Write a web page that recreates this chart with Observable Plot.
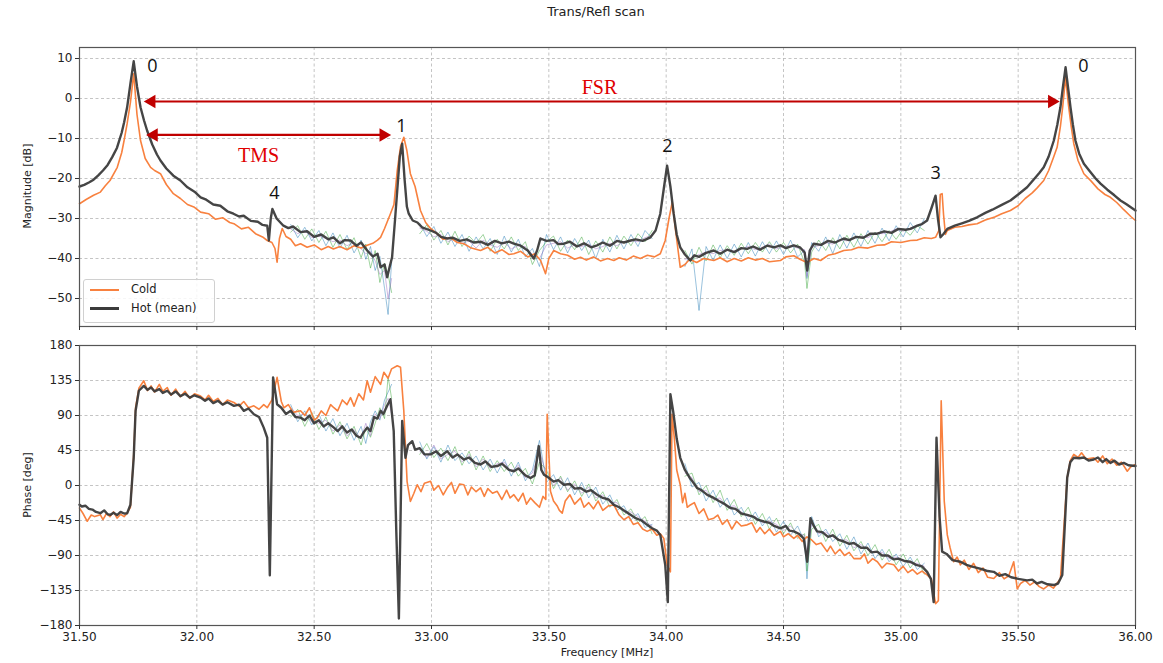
<!DOCTYPE html>
<html>
<head>
<meta charset="utf-8">
<script src="https://cdn.jsdelivr.net/npm/d3@7"></script>
<script src="https://cdn.jsdelivr.net/npm/@observablehq/plot@0.6"></script>
<style>
  html, body { margin: 0; padding: 0; background: #fff; }
  #root { position: relative; width: 1163px; height: 663px; font-family: "DejaVu Sans", sans-serif; color: #222; overflow: hidden; }
  .abs { position: absolute; }
  .ylab { position: absolute; transform: translate(-50%, -50%) rotate(-90deg); font-size: 11px; white-space: nowrap; }
</style>
</head>
<body>
<div id="root">
  <div class="abs" style="left:0;width:1192px;top:4px;text-align:center;font-size:13px;">Trans/Refl scan</div>
  <div id="magbox" class="abs" style="left:0;top:0;"></div>
  <div id="phbox" class="abs" style="left:0;top:338px;"></div>
  <div class="ylab" style="left:27px;top:186px;">Magnitude [dB]</div>
  <div class="ylab" style="left:27px;top:485px;">Phase [deg]</div>
  <div class="abs" style="left:79px;width:1056px;top:646px;text-align:center;font-size:11px;">Frequency [MHz]</div>
  <div id="legend" class="abs" style="left:83px;top:279px;width:130px;height:42px;border:1px solid #d0d0d0;border-radius:3px;background:rgba(255,255,255,0.85);font-size:11.5px;">
    <div class="abs" style="left:6px;top:9px;width:29px;height:2px;background:#f8813f;"></div>
    <div class="abs" style="left:47px;top:2px;">Cold</div>
    <div class="abs" style="left:6px;top:27px;width:29px;height:3px;background:#3b3b3b;"></div>
    <div class="abs" style="left:47px;top:21px;">Hot (mean)</div>
  </div>
</div>
<script>
// ---------- data ----------
const xTicks = [31.5, 32.0, 32.5, 33.0, 33.5, 34.0, 34.5, 35.0, 35.5, 36.0];
const magTicks = [10, 0, -10, -20, -30, -40, -50];
const phaseTicks = [180, 135, 90, 45, 0, -45, -90, -135, -180];

// Magnitude, Hot (mean)
const hotMagF = [31.50,31.52,31.54,31.56,31.58,31.60,31.62,31.64,31.66,31.68,31.69,31.703,31.717,31.731,31.745,31.760,31.775,31.788,31.81,31.83,31.845,31.87,31.90,31.93,31.96,31.99,32.016,32.04,32.07,32.10,32.13,32.156,32.18,32.20,32.23,32.26,32.28,32.30,32.307,32.315,32.322,32.34,32.369,32.39,32.41,32.442,32.47,32.50,32.53,32.56,32.582,32.61,32.63,32.655,32.68,32.70,32.726,32.75,32.77,32.783,32.80,32.811,32.822,32.832,32.845,32.854,32.865,32.875,32.885,32.895,32.903,32.92,32.94,32.96,32.996,33.02,33.04,33.067,33.09,33.12,33.15,33.18,33.209,33.24,33.27,33.30,33.33,33.351,33.38,33.41,33.436,33.45,33.464,33.49,33.52,33.54,33.564,33.59,33.62,33.65,33.68,33.706,33.73,33.76,33.79,33.82,33.848,33.87,33.90,33.933,33.955,33.975,33.99,34.004,34.018,34.032,34.045,34.06,34.08,34.103,34.12,34.14,34.17,34.203,34.23,34.26,34.29,34.32,34.345,34.37,34.40,34.43,34.46,34.487,34.51,34.544,34.57,34.59,34.601,34.612,34.629,34.66,34.69,34.72,34.757,34.78,34.81,34.84,34.87,34.899,34.93,34.96,34.99,35.02,35.041,35.07,35.09,35.112,35.13,35.148,35.158,35.169,35.18,35.198,35.23,35.26,35.29,35.325,35.36,35.39,35.43,35.467,35.50,35.538,35.57,35.59,35.609,35.63,35.652,35.667,35.68,35.69,35.702,35.712,35.723,35.733,35.744,35.76,35.78,35.80,35.83,35.851,35.88,35.91,35.936,35.96,35.98,36.00];
const hotMagV = [-22.0,-21.6,-21.0,-20.3,-19.2,-18.0,-16.6,-14.6,-12.3,-8.5,-6.0,-2.2,3.7,9.3,3.0,-2.2,-5.5,-8.0,-11.5,-14.0,-15.5,-17.5,-19.3,-20.5,-22.2,-23.3,-24.7,-25.3,-26.5,-26.8,-28.2,-28.8,-29.5,-29.3,-30.6,-30.8,-31.6,-31.8,-35.5,-30.0,-27.6,-30.0,-31.8,-32.4,-32.0,-33.4,-33.2,-34.6,-34.0,-35.2,-34.7,-36.2,-35.4,-35.5,-36.8,-36.0,-38.0,-39.5,-38.8,-42.2,-41.5,-44.7,-42.0,-39.7,-30.0,-23.0,-14.5,-11.3,-20.0,-27.0,-28.8,-30.5,-31.0,-32.2,-33.0,-33.6,-34.6,-35.0,-34.8,-35.6,-35.2,-36.0,-35.8,-36.6,-35.6,-36.2,-35.8,-36.3,-36.8,-38.0,-40.0,-38.0,-35.0,-35.6,-35.4,-36.4,-36.3,-35.8,-37.0,-36.2,-37.2,-36.7,-36.0,-36.8,-35.6,-36.0,-35.5,-35.2,-35.6,-34.7,-33.0,-28.8,-22.5,-16.8,-22.0,-28.8,-34.0,-37.2,-39.0,-40.5,-39.2,-39.6,-38.6,-38.0,-38.8,-37.8,-38.4,-37.4,-37.6,-37.0,-37.8,-36.8,-37.2,-36.7,-37.4,-36.7,-37.2,-38.5,-43.0,-38.0,-36.3,-36.6,-35.6,-36.0,-35.0,-35.4,-34.6,-34.8,-33.8,-33.8,-33.2,-33.6,-32.6,-32.8,-32.6,-31.8,-31.4,-30.5,-27.5,-24.3,-30.0,-34.7,-34.0,-32.6,-31.8,-31.2,-30.6,-29.7,-28.6,-27.8,-26.6,-25.5,-24.0,-22.2,-20.0,-18.6,-17.2,-14.5,-10.5,-6.5,-2.2,2.5,7.8,3.0,-2.2,-6.5,-10.5,-13.8,-16.3,-17.8,-20.0,-21.3,-22.8,-24.2,-25.5,-26.4,-27.2,-28.0];

// Magnitude, Cold
const coldMagF = [31.50,31.53,31.56,31.589,31.61,31.63,31.661,31.68,31.69,31.703,31.717,31.731,31.745,31.76,31.78,31.803,31.82,31.845,31.87,31.90,31.93,31.96,31.99,32.016,32.05,32.08,32.11,32.14,32.158,32.19,32.22,32.25,32.28,32.30,32.32,32.333,32.342,32.352,32.364,32.38,32.40,32.42,32.442,32.47,32.50,32.53,32.56,32.582,32.61,32.64,32.67,32.70,32.726,32.75,32.77,32.783,32.80,32.825,32.84,32.854,32.868,32.882,32.895,32.91,32.93,32.953,32.975,32.996,33.02,33.05,33.08,33.11,33.138,33.17,33.209,33.24,33.27,33.30,33.33,33.351,33.38,33.41,33.44,33.465,33.486,33.50,33.521,33.55,33.58,33.61,33.635,33.66,33.69,33.72,33.75,33.777,33.80,33.83,33.86,33.89,33.92,33.95,33.975,33.996,34.012,34.026,34.04,34.06,34.08,34.10,34.13,34.16,34.203,34.23,34.26,34.29,34.32,34.35,34.38,34.41,34.44,34.487,34.51,34.544,34.57,34.60,34.63,34.658,34.69,34.72,34.757,34.79,34.82,34.86,34.899,34.93,34.96,35.00,35.041,35.07,35.10,35.13,35.148,35.162,35.168,35.176,35.182,35.19,35.198,35.23,35.26,35.29,35.325,35.36,35.40,35.43,35.467,35.50,35.53,35.56,35.58,35.609,35.63,35.652,35.666,35.68,35.69,35.702,35.715,35.726,35.737,35.755,35.78,35.81,35.84,35.87,35.893,35.92,35.95,35.98,36.00];
const coldMagV = [-26.3,-25.2,-24.2,-23.4,-21.8,-20.5,-17.2,-13.5,-10.5,-6.3,-1.0,6.2,-4.0,-10.5,-15.0,-17.2,-18.0,-18.8,-21.5,-23.8,-25.0,-26.5,-27.2,-28.4,-28.8,-30.2,-29.8,-31.0,-31.3,-32.6,-32.2,-33.8,-34.6,-35.5,-36.0,-37.5,-40.9,-35.0,-32.5,-34.5,-35.2,-36.8,-36.3,-37.2,-36.6,-37.8,-37.0,-37.6,-37.0,-37.8,-36.8,-37.4,-36.7,-36.2,-35.4,-34.7,-32.5,-28.8,-26.5,-18.0,-12.0,-9.7,-13.0,-18.8,-22.0,-28.0,-31.0,-32.5,-33.6,-35.2,-34.8,-36.0,-36.3,-37.4,-38.0,-37.2,-38.6,-37.8,-39.0,-38.8,-38.2,-39.6,-38.8,-40.5,-43.8,-40.0,-38.0,-38.8,-39.2,-40.2,-39.7,-40.4,-39.6,-40.6,-40.0,-40.5,-39.8,-40.4,-39.4,-40.0,-39.2,-39.6,-38.8,-35.5,-30.0,-25.9,-33.0,-42.2,-41.5,-40.2,-41.0,-40.0,-40.5,-39.8,-40.8,-40.0,-40.6,-39.8,-40.4,-40.0,-40.8,-40.5,-39.6,-39.3,-40.2,-41.0,-40.0,-40.5,-39.2,-38.8,-38.0,-37.8,-37.2,-37.4,-36.7,-36.6,-35.8,-36.0,-35.5,-35.4,-34.8,-35.0,-34.7,-33.0,-24.0,-23.8,-29.0,-34.0,-33.0,-32.2,-32.0,-31.6,-31.3,-30.4,-29.6,-28.8,-28.0,-26.8,-25.0,-23.6,-22.4,-20.5,-18.0,-14.5,-12.2,-7.0,-2.0,5.3,-2.0,-7.0,-11.3,-15.5,-18.8,-20.6,-22.6,-24.0,-24.7,-26.0,-27.8,-29.5,-30.5];

// Phase, Hot (mean)
const hotPhF = [31.50,31.51,31.525,31.54,31.555,31.57,31.589,31.605,31.62,31.632,31.645,31.66,31.675,31.69,31.703,31.717,31.731,31.739,31.753,31.774,31.79,31.805,31.82,31.84,31.855,31.874,31.89,31.91,31.93,31.95,31.97,31.99,32.016,32.035,32.05,32.07,32.09,32.11,32.13,32.158,32.18,32.20,32.22,32.243,32.265,32.285,32.30,32.311,32.325,32.342,32.36,32.38,32.40,32.42,32.442,32.46,32.48,32.50,32.52,32.54,32.56,32.584,32.60,32.62,32.64,32.66,32.68,32.697,32.71,32.726,32.74,32.755,32.77,32.783,32.795,32.811,32.825,32.839,32.85,32.861,32.875,32.889,32.90,32.918,32.93,32.95,32.97,32.996,33.02,33.04,33.067,33.09,33.11,33.138,33.16,33.185,33.209,33.23,33.255,33.28,33.30,33.33,33.351,33.37,33.40,33.422,33.44,33.457,33.468,33.479,33.50,33.52,33.54,33.564,33.59,33.61,33.635,33.66,33.68,33.706,33.73,33.755,33.777,33.80,33.82,33.848,33.87,33.895,33.919,33.94,33.96,33.975,33.996,34.007,34.018,34.03,34.045,34.06,34.08,34.10,34.115,34.132,34.15,34.175,34.203,34.225,34.25,34.274,34.295,34.32,34.345,34.37,34.39,34.416,34.44,34.46,34.487,34.51,34.525,34.544,34.565,34.586,34.601,34.615,34.629,34.643,34.665,34.69,34.71,34.735,34.757,34.78,34.80,34.83,34.855,34.875,34.899,34.92,34.945,34.97,34.99,35.015,35.041,35.065,35.09,35.112,35.128,35.14,35.152,35.165,35.176,35.195,35.22,35.254,35.28,35.30,35.325,35.35,35.37,35.396,35.42,35.445,35.47,35.50,35.538,35.56,35.58,35.60,35.625,35.652,35.67,35.688,35.709,35.722,35.737,35.76,35.78,35.80,35.822,35.84,35.86,35.875,35.893,35.91,35.93,35.95,35.97,36.00];
const hotPhV = [-24.8,-27,-26,-30,-31,-34,-35.6,-32,-37,-37.7,-35,-38,-34,-36,-35.6,-24.8,35.6,96,121.8,128,123,126,121,124,119,121.8,117,121,115,118,113,116,113,109,112,106,109,104,107,102.4,104,96,99,91.6,88,74.4,61.4,-115.3,139,104.5,100,92,96,88,87.3,84,90,80,84,76,80,74.4,70,76,68,72,64,61.4,68,74.4,70,88,86,96,92,102.4,111,70,-59,-171,83,35.6,52,57,46,48,40,40,44,38,44,36,40,33.4,36,29,27,31,24,25,28,20,18.3,22,13,9.7,13,50.7,20,14,10,5,7,1,2,-4,-3.2,-8,-6,-11.8,-16,-18,-24.8,-28,-32,-37.7,-42,-45,-50.6,-55,-58,-63.5,-102,-150,117.5,95,60,35.6,20,10,4,-3.2,-6,-12,-16,-20,-24,-29,-30,-36,-37.7,-40,-44,-46.3,-48,-52,-55,-52,-58,-59,-62,-68,-98,-42,-52,-59,-60,-66,-64,-70,-72,-75,-74,-80,-80,-86,-85,-90,-90,-95,-94,-97,-98,-102,-104,-111,-120,-150,61.4,-40,-85,-88,-96,-98,-102,-104,-106,-108,-110,-111,-116,-114,-118,-120,-122,-121,-126,-124,-127,-128,-126,-115,10,30,35.6,35,36,32,33.4,36,30,34,29,32,27,29,26,25];

// Phase, Cold
const coldPhF = [31.50,31.515,31.533,31.55,31.565,31.589,31.60,31.615,31.63,31.645,31.66,31.675,31.69,31.703,31.717,31.731,31.739,31.753,31.774,31.79,31.805,31.82,31.84,31.855,31.874,31.89,31.91,31.93,31.95,31.97,31.99,32.016,32.035,32.05,32.07,32.09,32.11,32.13,32.158,32.18,32.20,32.22,32.243,32.265,32.285,32.30,32.32,32.342,32.36,32.371,32.39,32.41,32.442,32.46,32.48,32.50,32.513,32.53,32.55,32.57,32.584,32.60,32.62,32.64,32.655,32.67,32.69,32.71,32.726,32.74,32.76,32.783,32.797,32.815,32.83,32.854,32.868,32.882,32.896,32.91,32.925,32.939,32.955,32.97,32.996,33.01,33.03,33.05,33.067,33.085,33.10,33.12,33.138,33.155,33.17,33.19,33.209,33.225,33.24,33.26,33.28,33.30,33.32,33.335,33.351,33.37,33.39,33.405,33.422,33.44,33.46,33.475,33.487,33.493,33.507,33.52,33.535,33.545,33.557,33.57,33.59,33.61,33.635,33.65,33.67,33.69,33.71,33.73,33.755,33.777,33.80,33.82,33.84,33.86,33.88,33.90,33.919,33.94,33.96,33.975,33.99,34.004,34.018,34.025,34.035,34.045,34.06,34.07,34.08,34.09,34.103,34.12,34.14,34.16,34.18,34.203,34.22,34.24,34.26,34.28,34.30,34.32,34.345,34.365,34.385,34.40,34.42,34.44,34.46,34.487,34.50,34.52,34.544,34.56,34.58,34.60,34.62,34.64,34.66,34.686,34.70,34.72,34.74,34.76,34.78,34.80,34.828,34.845,34.86,34.88,34.90,34.92,34.94,34.97,34.99,35.01,35.03,35.05,35.07,35.09,35.112,35.13,35.148,35.16,35.172,35.185,35.198,35.21,35.225,35.24,35.254,35.27,35.29,35.31,35.33,35.35,35.37,35.396,35.42,35.44,35.46,35.481,35.496,35.51,35.53,35.55,35.57,35.59,35.609,35.63,35.65,35.665,35.68,35.709,35.722,35.737,35.755,35.77,35.79,35.822,35.84,35.86,35.88,35.90,35.92,35.94,35.965,35.98,36.00];
const coldPhV = [-29,-36,-46,-38,-40,-37.7,-44,-36,-40,-34,-42,-37,-40,-35.6,-28,40,100,125,134.7,122,128,120,130,121,126,116,124,114,121,112,118,115,110,116,108,112,104,110,106.7,102,108,100,102.4,98,104,100,110,139,108,100,104,94,96,90,100,84,87,96,90,104,100,96,110,104,113,102,118,110,134.7,120,140,130,145.5,138,150,154,152,96,5,-20.5,-10,1,-8,3,5.4,-6,0,-12,-3,4,-10,2,1,-12,-2,-8,-3,-14,-4,-10,-7.5,-18,-6,-16,-11.8,-20,-10,-24,-16,-22,-28,-14,-18,91.6,-7.5,-20,-26,-32,-35.6,-20,-12,-24,-16,-28,-22,-30,-20,-32,-26,-25,-38,-44,-40,-50,-48,-56,-59,-56,-64,-62,-68,-102,-111,91.6,60,20,1,-22,-10,-28,-25,-22,-36,-30,-44,-42,-38,-50,-44,-56,-46,-52,-50.6,-48,-60,-54,-62,-56,-64,-59,-66,-62,-68,-64,-72,-66,-70,-76,-74,-85,-78,-88,-82,-90,-86,-94,-94,-88,-100,-94,-98,-106,-100,-102,-110,-104,-112,-108,-114,-110,-115,-120,-152,-148,109,-20,-63.5,-80,-98,-92,-102,-96,-108,-100,-112,-106,-118,-119.6,-112,-120,-116,-98,-133,-126,-122,-128,-124,-130,-133,-128,-132,-126,-120,10,32,40,36,42,34,35.6,30,38,28,34,26,30,18.3,24,27];

// Individual hot scans (faint), sampled on a shared grid; NaN = break
const scanF = [32.40,32.43,32.46,32.49,32.52,32.55,32.58,32.61,32.64,32.67,32.70,32.72,32.74,32.76,32.78,32.80,32.815,32.83,32.89,32.95,32.98,33.01,33.04,33.07,33.10,33.13,33.16,33.19,33.22,33.25,33.28,33.31,33.34,33.37,33.40,33.43,33.46,33.49,33.52,33.55,33.58,33.61,33.64,33.67,33.70,33.73,33.76,33.79,33.82,33.85,33.88,33.91,33.94,34.00,34.08,34.11,34.14,34.17,34.20,34.23,34.26,34.29,34.32,34.35,34.38,34.41,34.44,34.47,34.50,34.53,34.56,34.59,34.60,34.62,34.65,34.68,34.71,34.74,34.77,34.80,34.83,34.86,34.89,34.92,34.95,34.98,35.01,35.04,35.07,35.10];
const scanMagA = [-31.5,-34.8,-32.2,-35.6,-33.0,-36.8,-33.6,-37.4,-34.2,-38.6,-35.4,-40.2,-37.0,-43.0,-39.5,-47.5,-54.0,-41.0,NaN,-31.2,-34.5,-32.0,-36.2,-33.4,-37.0,-34.0,-38.2,-34.6,-37.6,-35.0,-39.0,-34.4,-38.4,-35.2,-39.6,-37.5,-42.0,-34.0,-37.8,-34.6,-38.6,-35.0,-38.0,-35.4,-40.0,-35.2,-38.4,-34.2,-37.6,-34.0,-37.0,-33.0,-35.0,NaN,-42.0,-37.6,-53.0,-37.0,-40.4,-36.6,-40.0,-36.4,-39.6,-36.0,-39.4,-35.8,-38.8,-35.6,-39.0,-35.4,-39.6,-38.0,-45.0,-36.0,-38.2,-34.6,-38.8,-34.0,-37.4,-33.6,-37.0,-33.0,-36.2,-32.4,-35.6,-31.8,-34.6,-31.0,-33.6,-30.0];
const scanMagB = [-33.4,-31.8,-35.2,-32.6,-36.0,-33.2,-37.2,-34.0,-37.8,-34.8,-39.8,-36.4,-42.4,-38.0,-46.0,-41.2,-44.0,-48.5,NaN,-33.8,-31.6,-35.4,-33.0,-36.6,-33.2,-37.0,-34.4,-36.2,-34.0,-38.2,-35.2,-37.6,-34.6,-38.0,-35.8,-41.5,-38.0,-35.8,-34.4,-38.2,-35.4,-37.8,-34.6,-39.0,-35.6,-38.4,-34.6,-37.6,-34.4,-36.8,-33.8,-35.8,-33.0,NaN,-38.0,-41.4,-37.2,-40.6,-36.6,-39.8,-36.8,-39.2,-36.2,-38.8,-36.0,-38.4,-35.8,-38.4,-36.0,-38.6,-36.4,-41.0,-47.5,-38.4,-35.4,-38.0,-34.8,-37.6,-34.2,-37.2,-33.8,-36.4,-33.4,-35.8,-33.0,-35.2,-32.6,-34.2,-31.8,-33.0];
const scanMagC = [-32.6,-33.8,-33.0,-34.8,-34.4,-35.0,-35.8,-35.4,-36.8,-36.0,-37.6,-38.8,-38.2,-40.6,-44.0,-43.0,-50.0,-45.0,NaN,-32.4,-33.2,-34.6,-34.0,-35.8,-35.0,-36.2,-35.6,-37.4,-35.4,-36.6,-37.2,-36.0,-37.6,-36.8,-37.0,-39.0,-40.0,-36.6,-36.2,-35.8,-37.4,-36.6,-37.0,-36.4,-37.6,-37.0,-36.2,-36.8,-35.8,-35.6,-35.8,-34.8,-34.2,NaN,-40.2,-39.8,-39.0,-38.4,-38.8,-38.0,-37.8,-38.2,-37.6,-37.0,-37.8,-37.2,-36.4,-37.6,-37.0,-36.8,-37.4,-37.8,-44.5,-37.2,-36.8,-36.0,-36.4,-35.2,-35.6,-34.8,-34.4,-34.8,-33.6,-33.8,-33.4,-32.6,-33.2,-32.4,-31.8,-31.2];
const scanPhA = [104,82,96,78,92,70,86,64,80,58,76,54,82,96,84,110,120,130,NaN,56,34,50,30,52,32,42,28,38,20,34,16,34,12,30,6,20,58,4,14,-6,10,-12,4,-16,-2,-24,-12,-32,-26,-44,-36,-54,-50,NaN,28,-2,4,-20,-6,-28,-16,-38,-28,-46,-34,-52,-40,-60,-46,-64,-52,-72,-120,-40,-66,-56,-72,-62,-82,-66,-88,-74,-94,-82,-98,-88,-104,-92,-108,-100];
const scanPhB = [88,98,76,94,72,88,66,82,60,76,52,74,62,80,100,86,140,112,NaN,40,54,36,48,32,50,26,44,20,38,18,32,18,30,12,22,2,30,20,-4,12,-8,6,-14,2,-20,-8,-28,-18,-38,-30,-48,-40,-62,NaN,12,16,-12,0,-22,-6,-32,-18,-40,-28,-50,-36,-56,-42,-62,-48,-68,-62,-110,-56,-50,-72,-56,-78,-64,-84,-72,-90,-76,-96,-82,-102,-88,-106,-94,-114];
const scanPhC = [100,90,92,82,80,84,70,78,64,72,60,80,64,92,86,104,112,92,NaN,44,36,52,34,40,44,30,40,24,34,22,28,30,18,26,10,16,44,14,0,10,-6,2,-10,-2,-16,-12,-22,-22,-34,-34,-40,-46,-52,NaN,16,10,-8,-6,-18,-16,-28,-26,-34,-40,-40,-48,-46,-50,-58,-52,-62,-64,-90,-48,-62,-60,-66,-70,-70,-80,-76,-82,-86,-86,-94,-92,-96,-100,-100,-104];

// Annotations (data units)
const peakLabels = ["0", "1", "2", "3", "4", "0"];
const peakLabelF = [31.811, 32.872, 34.005, 35.148, 32.331, 35.778];
const peakLabelDb = [8, -7, -12, -18.75, -23.75, 8];
const spanNames = ["FSR", "TMS"];
const spanStart = [31.807, 31.817];
const spanEnd = [35.644, 32.795];
const spanDb = [-0.75, -9.1];
const spanTextF = [33.716, 32.263];
const spanTextDb = [2.75, -14.25];

// ---------- build ----------
const toRows = (f, v) => f.map((x, i) => ({f: x, v: v[i]}));
const hotMag = toRows(hotMagF, hotMagV);
const coldMag = toRows(coldMagF, coldMagV);
const hotPh = toRows(hotPhF, hotPhV);
const coldPh = toRows(coldPhF, coldPhV);
const scanColors = ["#1f77b4", "#2ca02c", "#9467bd"];
const magScans = [scanMagA, scanMagB, scanMagC].map(a => toRows(scanF, a));
const phScans = [scanPhA, scanPhB, scanPhC].map(a => toRows(scanF, a));
const peaks = peakLabels.map((t, i) => ({t, f: peakLabelF[i], v: peakLabelDb[i]}));
const spans = spanNames.map((t, i) => ({t, f1: spanStart[i], f2: spanEnd[i], v: spanDb[i], tf: spanTextF[i], tv: spanTextDb[i]}));

const fmtX = d3.format(".2f");
const fmtY = d => d < 0 ? "\u2212" + Math.abs(d) : String(d);
const COLD = "#f8813f", HOT = "#3b3b3b", ARROW = "#c00000";
const gridStyle = {stroke: "#b5b5b5", strokeOpacity: 1, strokeDasharray: "3,2.5", strokeWidth: 0.8};
const scanMarks = scans => scans.map((s, i) => Plot.line(s, {x: "f", y: "v", stroke: scanColors[i], strokeWidth: 1, strokeOpacity: 0.45}));
const common = {
  width: 1163, marginLeft: 79, marginRight: 28,
  style: {fontFamily: "DejaVu Sans, sans-serif", fontSize: "12px", color: "#222", background: "transparent", overflow: "visible"},
  x: {domain: [31.5, 36]},
};

const magPlot = Plot.plot({
  ...common,
  height: 338, marginTop: 47, marginBottom: 12,
  y: {domain: [-57, 12.75]},
  marks: [
    Plot.gridX(xTicks, gridStyle),
    Plot.gridY(magTicks, gridStyle),
    ...scanMarks(magScans),
    Plot.line(coldMag, {x: "f", y: "v", stroke: COLD, strokeWidth: 1.6}),
    Plot.line(hotMag, {x: "f", y: "v", stroke: HOT, strokeWidth: 2.4, strokeOpacity: 0.95}),
    Plot.link(spans, {x1: "f1", x2: "f2", y1: "v", y2: "v", stroke: ARROW, strokeWidth: 2.2}),
    Plot.dot(spans, {x: "f1", y: "v", symbol: "triangle", r: 5, fill: ARROW, rotate: -90}),
    Plot.dot(spans, {x: "f2", y: "v", symbol: "triangle", r: 5, fill: ARROW, rotate: 90}),
    Plot.text(spans, {x: "tf", y: "tv", text: "t", fill: "#e00000", fontSize: 20, fontFamily: "Liberation Serif, serif"}),
    Plot.text(peaks, {x: "f", y: "v", text: "t", fill: "#111", fontSize: 18, fontFamily: "Open Sans, sans-serif"}),
    Plot.frame({stroke: "#555", strokeWidth: 1.2}),
    Plot.axisX(xTicks, {tickSize: 4, tickFormat: () => "", label: null, stroke: "#333"}),
    Plot.axisY(magTicks, {tickSize: 4, tickPadding: 3, tickFormat: fmtY, label: null, fontSize: 12, stroke: "#333"}),
  ]
});
document.getElementById("magbox").appendChild(magPlot);

const phPlot = Plot.plot({
  ...common,
  height: 325, marginTop: 7, marginBottom: 38,
  y: {domain: [-180, 180]},
  marks: [
    Plot.gridX(xTicks, gridStyle),
    Plot.gridY(phaseTicks, gridStyle),
    ...scanMarks(phScans),
    Plot.line(coldPh, {x: "f", y: "v", stroke: COLD, strokeWidth: 1.6}),
    Plot.line(hotPh, {x: "f", y: "v", stroke: HOT, strokeWidth: 2.4, strokeOpacity: 0.95}),
    Plot.frame({stroke: "#555", strokeWidth: 1.2}),
    Plot.axisX(xTicks, {tickSize: 4, tickPadding: 3, tickFormat: fmtX, label: null, fontSize: 12, stroke: "#333"}),
    Plot.axisY(phaseTicks, {tickSize: 4, tickPadding: 3, tickFormat: fmtY, label: null, fontSize: 12, stroke: "#333"}),
  ]
});
document.getElementById("phbox").appendChild(phPlot);
</script>
</body>
</html>
